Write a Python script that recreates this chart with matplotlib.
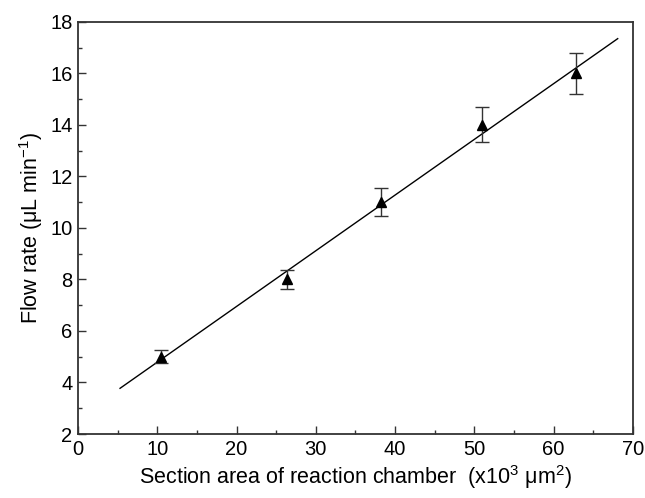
import numpy as np
import matplotlib
matplotlib.use("Agg")
import matplotlib.pyplot as plt
from matplotlib.ticker import MultipleLocator

plt.rcParams['font.family'] = ['Liberation Sans', 'DejaVu Sans']
plt.rcParams['mathtext.fontset'] = 'custom'
plt.rcParams['mathtext.rm'] = 'Liberation Sans'

# data
area = [10.5, 26.4, 38.2, 51.0, 62.9]       # x10^3 um^2
flow = [5.0, 8.0, 11.0, 14.0, 16.0]         # uL/min
flow_err = [0.25, 0.38, 0.55, 0.68, 0.8]
fit_range = [5.3, 68.1]

fig = plt.figure(figsize=(6.45, 4.98), dpi=100)
ax = fig.add_axes([0.121, 0.1285, 0.860, 0.8275])

# linear fit
k, b = np.polyfit(area, flow, 1)
xs = np.array(fit_range)
ax.plot(xs, k * xs + b, color='black', lw=1.0)

ax.errorbar(area, flow, yerr=flow_err, fmt='^', color='black', ms=7,
            ecolor='#333333', elinewidth=1.0, capsize=5, capthick=1.0)

ax.set_xlim(0, 70)
ax.set_ylim(2, 18)
ax.xaxis.set_major_locator(MultipleLocator(10))
ax.xaxis.set_minor_locator(MultipleLocator(5))
ax.yaxis.set_major_locator(MultipleLocator(2))
ax.yaxis.set_minor_locator(MultipleLocator(1))
ax.tick_params(which='both', direction='in', top=False, right=False,
               color='#333333', width=1.0, labelsize=14.5, pad=4)
ax.tick_params(which='major', length=6)
ax.tick_params(which='minor', length=3)
for s in ax.spines.values():
    s.set_color('#333333')
    s.set_linewidth(1.3)

ax.set_xlabel('Section area of reaction chamber  (x10$^3$ μm$^2$)',
              fontsize=15.5, labelpad=3)
ax.set_ylabel('Flow rate (μL min$^{-1}$)', fontsize=15.5, labelpad=4)

fig.savefig('out.png', dpi=100, facecolor='white')
